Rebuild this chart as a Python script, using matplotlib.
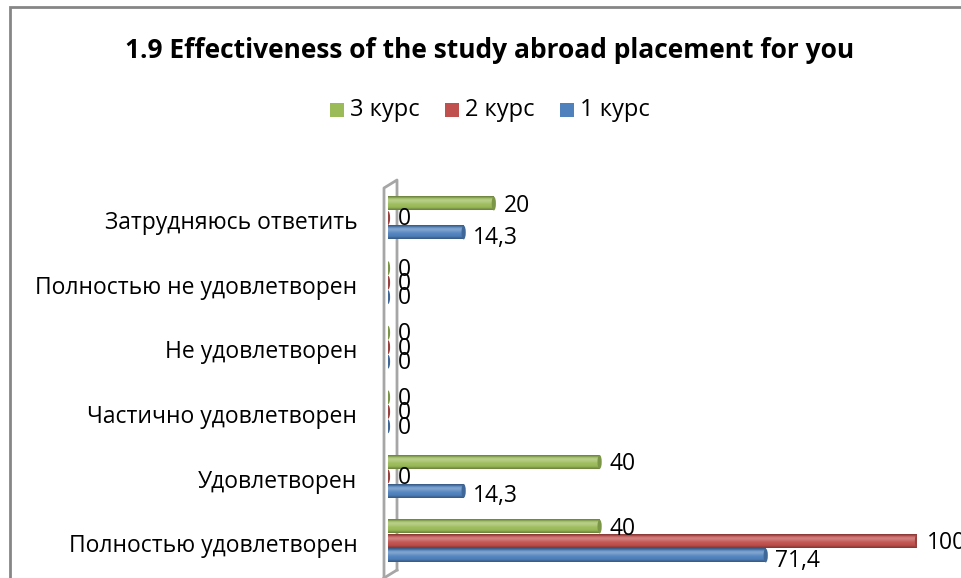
import numpy as np
import matplotlib.pyplot as plt
from matplotlib.patches import Ellipse, Rectangle
from matplotlib.colors import to_rgb

plt.rcParams['font.family'] = ['Open Sans', 'DejaVu Sans']

# категории снизу вверх
categories = ['Полностью удовлетворен', 'Удовлетворен', 'Частично удовлетворен',
              'Не удовлетворен', 'Полностью не удовлетворен', 'Затрудняюсь ответить']
kurs1 = [71.4, 14.3, 0, 0, 0, 14.3]
kurs2 = [100, 0, 0, 0, 0, 0]
kurs3 = [40, 40, 0, 0, 0, 20]
series_names = ['1 курс', '2 курс', '3 курс']
colors = ['#4F81BD', '#C0504D', '#9BBB59']

W, H = 961, 578
fig = plt.figure(figsize=(W / 100, H / 100), dpi=100)

# оси: x=0 -> 388px, x=100 -> 917px; центр группы 0 -> 541px, шаг 64.6px
px_per_cat = 64.6
ytop_px, ybot_px = 170, 578
ax = fig.add_axes([388 / W, 1 - ybot_px / H, (917 - 388) / W, (ybot_px - ytop_px) / H])
ax.set_xlim(0, 100)
ax.set_ylim((541 - ybot_px) / px_per_cat, (541 - ytop_px) / px_per_cat)
ax.axis('off')

def shade(c, f):
    r = np.array(to_rgb(c))
    if f > 0:
        return r + (1 - r) * f
    return r * (1 + f)

def cylinder(y, v, h, c):
    # градиент поперёк бара, имитация цилиндра
    prof = np.array([-0.3, 0.1, 0.3, 0.25, 0.12, 0.03, 0.0, -0.05, -0.3])
    img = np.array([shade(c, f) for f in prof])[:, None, :]
    ecap = 0.8
    if v > 0:
        ax.imshow(img, extent=(0, v, y - h / 2, y + h / 2), aspect='auto',
                  interpolation='bicubic', zorder=3, origin='upper')
    ax.add_patch(Ellipse((v, y), ecap, h, facecolor=shade(c, -0.2),
                         edgecolor='none', zorder=4))

h = 0.215
offs = [-0.224, 0.0, 0.224]
lab_dy = [-4, -1.5, -1.5]
data = [kurs1, kurs2, kurs3]
for k in range(3):
    for i, v in enumerate(data[k]):
        y = i + offs[k]
        cylinder(y, v, h, colors[k])
        txt = f'{v:g}'.replace('.', ',')
        dy = lab_dy[k] if v > 0 else -1
        ax.annotate(txt, (v, y), xytext=(7, dy), textcoords='offset points',
                    ha='left', va='center', fontsize=16.5, color='black', zorder=5,
                    annotation_clip=False)

# подписи категорий
for i, c in enumerate(categories):
    ax.text(-5.8, i - 0.08, c, ha='right', va='center', fontsize=16.5, color='black')

# стенка 3D
x1 = (384 - 388) / 5.29
x2 = (397 - 388) / 5.29
def py(p):
    return (541 - p) / px_per_cat
wall = dict(color='#A6A6A6', lw=2, clip_on=False, zorder=1)
ax.plot([x1, x1, x2, x2], [py(578), py(188), py(180), py(570)], **wall)
ax.plot([x1, x2], [py(578), py(570)], **wall)

# рамка
fig.add_artist(Rectangle((10 / W, -0.05), 1.0, 1 - 7 / H + 0.05, transform=fig.transFigure,
                         fill=False, edgecolor='#868686', lw=2))

fig.text(490 / W, 1 - 50 / H, '1.9 Effectiveness of the study abroad placement for you',
         ha='center', va='center', fontsize=19, fontweight='bold')

# легенда
leg_items = [(337, '3 курс', colors[2]), (452, '2 курс', colors[1]), (567, '1 курс', colors[0])]
for x, t, c in leg_items:
    fig.add_artist(Rectangle(((x - 7) / W, 1 - 117 / H), 14 / W, 14 / H,
                             transform=fig.transFigure, facecolor=c, edgecolor='none'))
    fig.text((x + 13) / W, 1 - 110 / H, t, ha='left', va='center', fontsize=17)

fig.savefig('out.png', dpi=100)
